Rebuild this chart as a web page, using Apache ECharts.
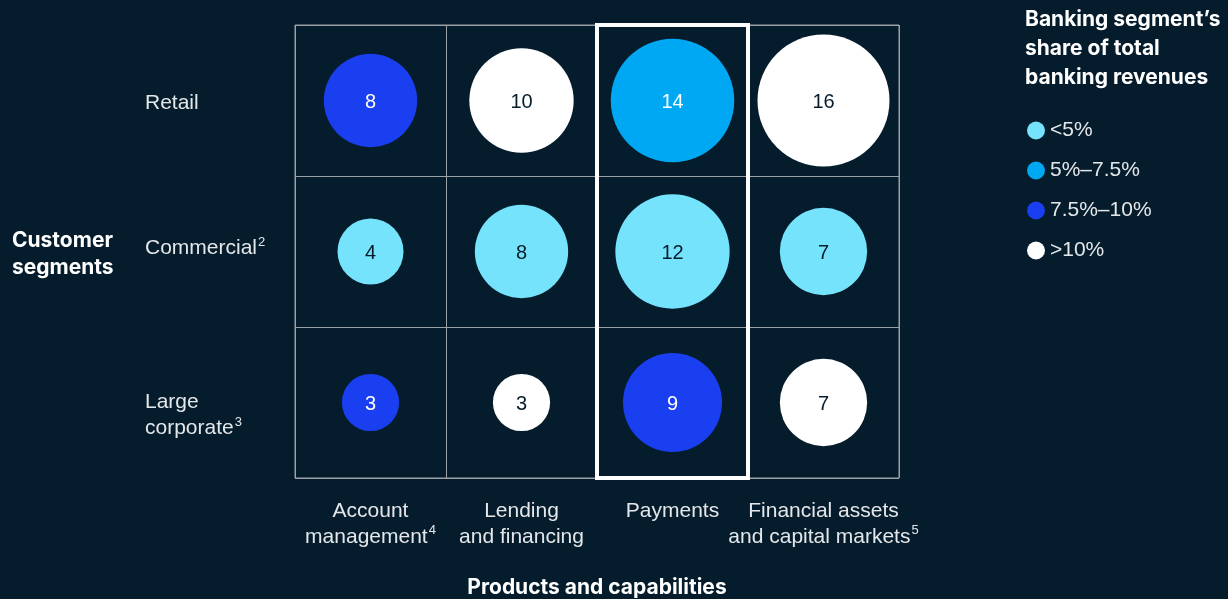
<!DOCTYPE html>
<html>
<head>
<meta charset="utf-8">
<script src="https://cdn.jsdelivr.net/npm/echarts@6/dist/echarts.min.js"></script>
<style>
  html, body { margin: 0; padding: 0; background: #051c2c; }
  #chart { width: 1228px; height: 599px; }
</style>
</head>
<body>
<div id="chart"></div>
<script>
// columns: products and capabilities
const products = ['Account management', 'Lending and financing', 'Payments', 'Financial assets and capital markets'];
const productLines = [['Account', 'management'], ['Lending', 'and financing'], ['Payments'], ['Financial assets', 'and capital markets']];
const productNotes = ['4', '', '', '5'];
// rows: customer segments
const segments = ['Retail', 'Commercial', 'Large corporate'];
const segmentLines = [['Retail'], ['Commercial'], ['Large', 'corporate']];
const segmentNotes = ['', '2', '3'];
// values per row (left to right)
const retailValues = [8, 10, 14, 16];
const commercialValues = [4, 8, 12, 7];
const largeCorpValues = [3, 3, 9, 7];
// share bucket index per cell (0 <5%, 1 5–7.5%, 2 7.5–10%, 3 >10%)
const retailShare = [2, 3, 1, 3];
const commercialShare = [0, 0, 0, 0];
const largeCorpShare = [2, 3, 2, 3];
const shareBuckets = ['<5%', '5%–7.5%', '7.5%–10%', '>10%'];
const bucketColors = ['#74e3fb', '#00a8f3', '#1a3ff0', '#ffffff'];
const bucketText = ['#051c2c', '#ffffff', '#ffffff', '#051c2c'];
const highlightColumn = 'Payments';

const bg = '#051c2c';
const lineColor = '#9aa1a7';
const textColor = '#e4e7ea';

const rows = [retailValues, commercialValues, largeCorpValues];
const shares = [retailShare, commercialShare, largeCorpShare];

// group the cells by share bucket, one series each
const series = shareBuckets.map((name, b) => {
  const data = [];
  rows.forEach((vals, r) => {
    vals.forEach((v, c) => {
      if (shares[r][c] === b) data.push([c, r, v]);
    });
  });
  return {
    name: name,
    type: 'scatter',
    data: data,
    symbolSize: (d) => 33 * Math.sqrt(d[2]),
    itemStyle: { color: bucketColors[b], opacity: 1 },
    label: {
      show: true,
      position: 'inside',
      offset: [0, 2],
      formatter: (p) => p.value[2],
      color: bucketText[b],
      fontSize: 20,
      fontFamily: 'Liberation Sans',
    },
    emphasis: { disabled: true },
  };
});

const hi = products.indexOf(highlightColumn);
series.push({
  name: 'highlight',
  type: 'scatter',
  xAxisIndex: 1,
  yAxisIndex: 1,
  data: [],
  silent: true,
  markArea: {
    silent: true,
    itemStyle: { color: 'rgba(0,0,0,0)', borderColor: '#ffffff', borderWidth: 4 },
    data: [[{ coord: [hi, 0] }, { coord: [hi + 1, segments.length] }]],
  },
});

const rich = {
  t: { fontSize: 21, lineHeight: 26, color: textColor, fontFamily: 'Liberation Sans' },
  s: { fontSize: 13, lineHeight: 26, color: textColor, fontFamily: 'Liberation Sans', verticalAlign: 'top', padding: [0, 0, 0, 1] },
};

function labelText(lines, note) {
  return lines.map((l, i) => '{t|' + l + '}' + (i === lines.length - 1 && note ? '{s|' + note + '}' : '')).join('\n');
}

// small nudges so the row labels sit like the original
const segmentPads = [[6, 0, 0, 0], [0, 0, 6, 0], [26, 0, 0, 0]];

const chart = echarts.init(document.getElementById('chart'));
chart.setOption({
  backgroundColor: bg,
  animation: false,
  title: [
    {
      text: 'Banking segment’s\nshare of total\nbanking revenues',
      left: 1025,
      top: 5,
      padding: 0,
      textStyle: { color: '#ffffff', fontSize: 21, fontWeight: 'bold', lineHeight: 29, fontFamily: 'Inter' },
    },
    {
      text: 'Customer\nsegments',
      left: 12,
      top: 227,
      padding: 0,
      textStyle: { color: '#ffffff', fontSize: 21, fontWeight: 'bold', lineHeight: 27, fontFamily: 'Inter' },
    },
  ],
  legend: {
    data: shareBuckets,
    orient: 'vertical',
    left: 1027,
    top: 120,
    padding: 0,
    icon: 'circle',
    itemWidth: 18,
    itemHeight: 18,
    itemGap: 19,
    itemStyle: { borderWidth: 0 },
    selectedMode: false,
    textStyle: { color: textColor, fontSize: 21, lineHeight: 19, fontFamily: 'Liberation Sans', padding: [2, 0, 0, 0] },
  },
  grid: {
    left: 295,
    top: 25,
    width: 604,
    height: 453,
    outerBoundsMode: 'none',
    show: true,
    borderColor: lineColor,
    borderWidth: 1,
    backgroundColor: 'transparent',
  },
  xAxis: [
    {
      type: 'category',
      data: products,
      axisLine: { show: false },
      axisTick: { show: false },
      splitLine: { show: true, interval: 0, lineStyle: { color: lineColor, width: 1 } },
      axisLabel: {
        interval: 0,
        margin: 20,
        formatter: (v, i) => labelText(productLines[i], productNotes[i]),
        rich: rich,
      },
      name: 'Products and capabilities',
      nameLocation: 'middle',
      nameGap: 99,
      nameTextStyle: { color: '#ffffff', fontSize: 21, fontWeight: 'bold', fontFamily: 'Inter' },
    },
    { type: 'value', min: 0, max: products.length, show: false },
  ],
  yAxis: [
    {
      type: 'category',
      data: segments.map((s, i) => ({ value: s, textStyle: { align: 'left', padding: segmentPads[i] } })),
      inverse: true,
      axisLine: { show: false },
      axisTick: { show: false },
      splitLine: { show: true, interval: 0, lineStyle: { color: lineColor, width: 1 } },
      axisLabel: {
        interval: 0,
        margin: 150,
        align: 'left',
        formatter: (v, i) => labelText(segmentLines[i], segmentNotes[i]),
        rich: rich,
      },
    },
    { type: 'value', min: 0, max: segments.length, inverse: true, show: false },
  ],
  series: series,
});
</script>
</body>
</html>
